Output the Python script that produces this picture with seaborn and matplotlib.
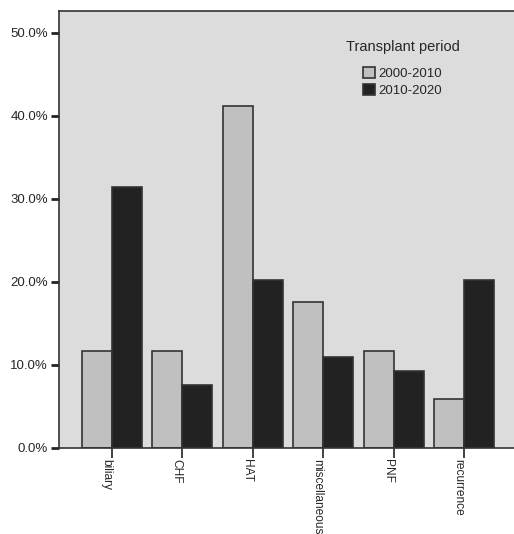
import matplotlib
matplotlib.use("Agg")
import matplotlib.pyplot as plt
import matplotlib.ticker as mticker
import pandas as pd
import seaborn as sns

causes = ['biliary', 'CHF', 'HAT', 'miscellaneous', 'PNF', 'recurrence']
periods = ['2000-2010', '2010-2020']
pct_2000_2010 = [11.7, 11.7, 41.2, 17.6, 11.7, 5.9]
pct_2010_2020 = [31.4, 7.6, 20.3, 11.0, 9.3, 20.3]

df = pd.DataFrame({
    'cause': causes * 2,
    'period': [periods[0]] * len(causes) + [periods[1]] * len(causes),
    'pct': pct_2000_2010 + pct_2010_2020,
})

sns.set_style('white')
plt.rcParams['font.family'] = ['Liberation Sans', 'DejaVu Sans']

fig = plt.figure(figsize=(5.14, 5.34), dpi=100)
ax = fig.add_axes([59 / 514, 86 / 534, 458 / 514, 437 / 534])
ax.set_facecolor('#dcdcdc')

sns.barplot(data=df, x='cause', y='pct', hue='period', order=causes,
            hue_order=periods, palette=['#c0c0c0', '#222222'],
            width=0.85, edgecolor='#333333', linewidth=1.2, ax=ax,
            saturation=1)

ax.set_xlim(-0.75, 5.75)
ax.set_ylim(0, 52.65)
ax.set_yticks([0, 10, 20, 30, 40, 50])
ax.yaxis.set_major_formatter(mticker.FuncFormatter(lambda v, p: f'{v:.1f}%'))
ax.set_xlabel('')
ax.set_ylabel('')

for s in ax.spines.values():
    s.set_color('#333333')
    s.set_linewidth(1.2)
ax.spines['right'].set_visible(False)

ax.tick_params(axis='y', direction='out', length=6, width=2, color='#222222',
               labelsize=9.5, pad=2, left=True)
ax.tick_params(axis='x', direction='out', length=7, width=1.2, color='#222222',
               labelsize=8.6, pad=1, bottom=True)
plt.setp(ax.get_xticklabels(), rotation=270, va='top', ha='right',
         rotation_mode='default')

leg = ax.legend(title='Transplant period', frameon=False, loc='upper left',
                bbox_to_anchor=(0.6, 0.96), fontsize=9.5, title_fontsize=10.5,
                handlelength=0.9, handleheight=0.9, handletextpad=0.3,
                labelspacing=0.3)
leg._legend_box.sep = 9

fig.savefig('out.png', dpi=100)
